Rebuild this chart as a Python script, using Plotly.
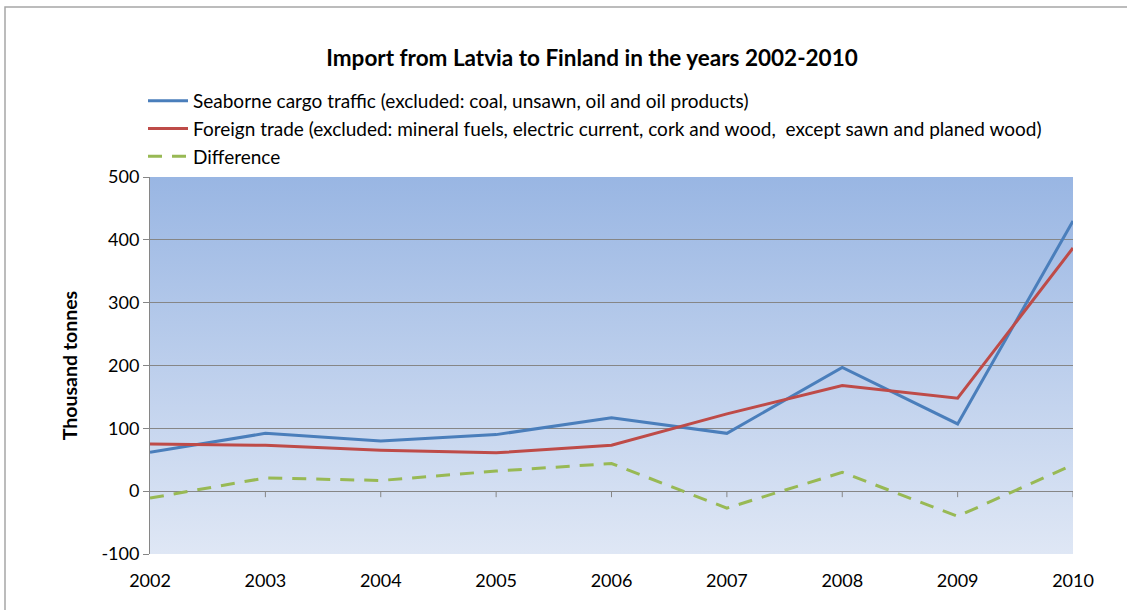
import base64
import plotly.graph_objects as go

years = ["2002", "2003", "2004", "2005", "2006", "2007", "2008", "2009", "2010"]
seaborne = [62, 92, 80, 90, 117, 92, 197, 107, 430]
foreign = [75, 73, 65, 61, 73, 123, 168, 148, 387]
difference = [-11, 21, 17, 32, 44, -27, 30, -40, 42]
y_tick_values = [-100, 0, 100, 200, 300, 400, 500]
y_tick_labels = ["-100", "0", "100", "200", "300", "400", "500"]

name_sea = "Seaborne cargo traffic (excluded: coal, unsawn, oil and oil products)"
name_for = "Foreign trade (excluded: mineral fuels, electric current, cork and wood,  except sawn and planed wood)"
name_diff = "Difference"

FONT = "Lato"
W, H = 1127, 610
L, R, T, B = 150, 54, 177, 56
PW, PH = W - L - R, H - T - B

fig = go.Figure()
fig.add_trace(go.Scatter(x=years, y=seaborne, mode="lines", name=name_sea,
                         line=dict(color="#4a7ebb", width=3)))
fig.add_trace(go.Scatter(x=years, y=foreign, mode="lines", name=name_for,
                         line=dict(color="#be4b48", width=3)))
fig.add_trace(go.Scatter(x=years, y=difference, mode="lines", name=name_diff,
                         line=dict(color="#98b954", width=3, dash="14px,10px")))

# smooth vertical gradient for the plot area
svg = ('<svg xmlns="http://www.w3.org/2000/svg" width="100" height="100" preserveAspectRatio="none">'
       '<defs><linearGradient id="g" x1="0" y1="0" x2="0" y2="1">'
       '<stop offset="0" stop-color="rgb(153,182,227)"/>'
       '<stop offset="1" stop-color="rgb(223,231,245)"/>'
       '</linearGradient></defs><rect width="100" height="100" fill="url(#g)"/></svg>')
svg_uri = "data:image/svg+xml;base64," + base64.b64encode(svg.encode()).decode()

shapes = []
for i in range(1, len(years)):
    shapes.append(dict(type="line", xref="x", yref="y", x0=i, x1=i,
                       ysizemode="pixel", yanchor=0, y0=0, y1=-6,
                       line=dict(color="#868686", width=1)))
shapes.append(dict(type="rect", xref="paper", yref="paper",
                   x0=(5 - L) / PW, x1=1.2,
                   y0=-0.5, y1=(H - B - 7) / PH,
                   line=dict(color="#a6a6a6", width=1.5), fillcolor="rgba(0,0,0,0)"))

fig.update_layout(
    width=W, height=H,
    margin=dict(l=L, r=R, t=T, b=B),
    paper_bgcolor="white",
    plot_bgcolor="rgba(0,0,0,0)",
    font=dict(family=FONT, size=18, color="black"),
    title=dict(text="<b>Import from Latvia to Finland in the years 2002-2010</b>",
               x=592 / W, xanchor="center", y=1 - 58 / H, yanchor="middle",
               font=dict(family=FONT, size=22.5, color="black")),
    legend=dict(x=(143 - L) / PW, xanchor="left", y=1 + (T - 82) / PH, yanchor="top",
                bgcolor="rgba(0,0,0,0)", font=dict(family=FONT, size=19),
                tracegroupgap=0, itemwidth=40),
    showlegend=True,
    shapes=shapes,
    images=[dict(source=svg_uri, xref="x domain", yref="y domain", x=0, y=1,
                 sizex=1, sizey=1, xanchor="left", yanchor="top",
                 sizing="stretch", layer="below")],
    xaxis=dict(type="category", range=[0, len(years) - 1], showgrid=False,
               showline=False, ticks="", tickfont=dict(family=FONT, size=18),
               ticklabelstandoff=14),
    yaxis=dict(range=[-100, 500], tickvals=y_tick_values, ticktext=y_tick_labels,
               showgrid=True, gridcolor="#868686",
               gridwidth=1, zeroline=True, zerolinecolor="#868686", zerolinewidth=1,
               showline=True, linecolor="#868686", linewidth=1,
               ticks="outside", ticklen=6, tickcolor="#868686",
               tickfont=dict(family=FONT, size=18),
               title=dict(text="<b>Thousand tonnes</b>", standoff=18,
                          font=dict(family=FONT, size=19.5))),
)

fig.write_html("out.html", config={"displayModeBar": False},
               post_script="document.body.style.margin='0';")
